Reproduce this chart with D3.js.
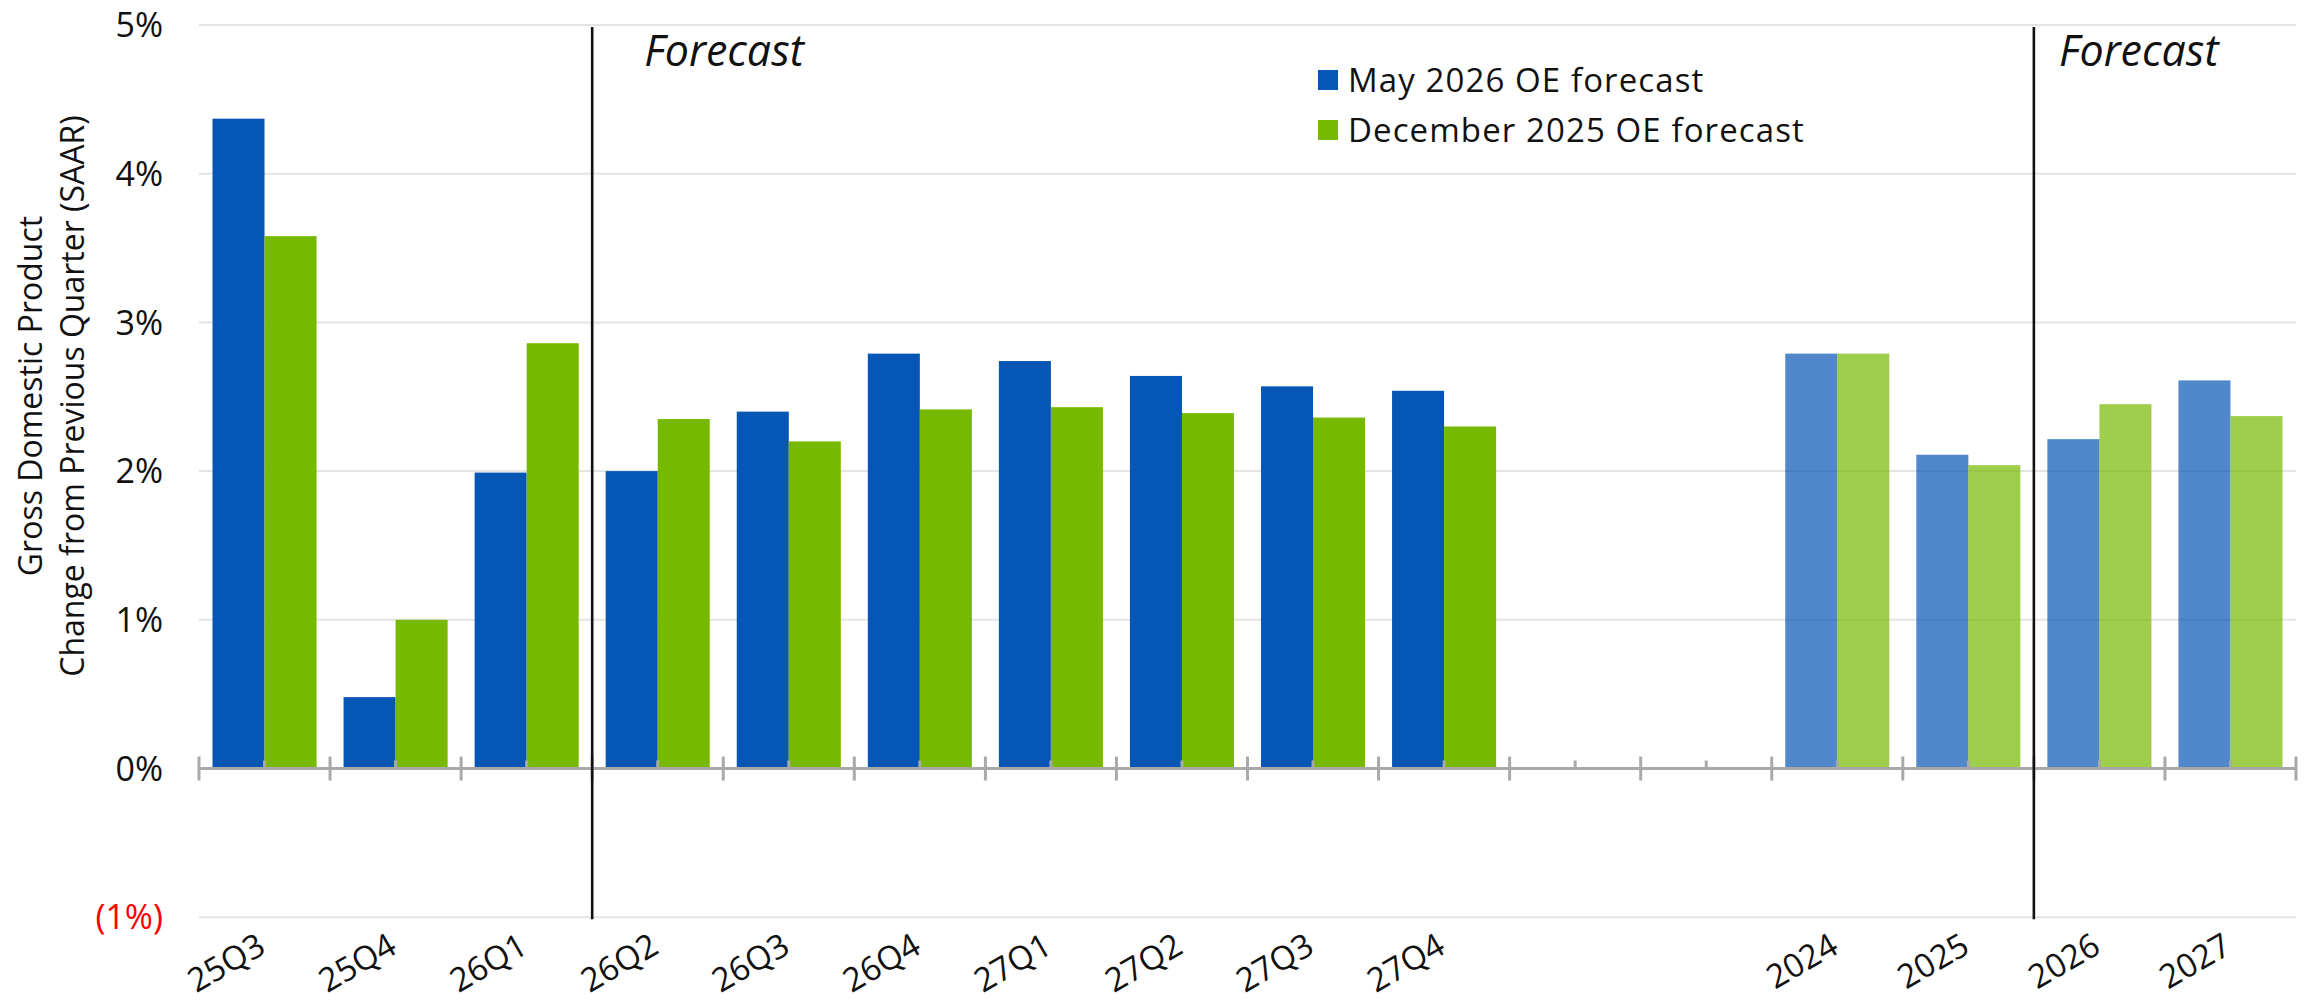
<!DOCTYPE html>
<html>
<head>
<meta charset="utf-8">
<script src="https://cdn.jsdelivr.net/npm/d3@7"></script>
<style>
  html, body { margin: 0; padding: 0; background: #fff; }
  svg { display: block; font-family: "Open Sans", Lato, sans-serif; }
</style>
</head>
<body>
<svg id="chart" width="2308" height="1006"></svg>
<script>
// Quarterly (SAAR) and annual real GDP growth, two forecast vintages
const categories = ["25Q3", "25Q4", "26Q1", "26Q2", "26Q3", "26Q4", "27Q1", "27Q2", "27Q3", "27Q4",
                    " ", "  ", "2024", "2025", "2026", "2027"];
const annualCategories = ["2024", "2025", "2026", "2027"];
const may2026 = [4.37, 0.48, 1.99, 2.00, 2.40, 2.79, 2.74, 2.64, 2.57, 2.54, null, null, 2.79, 2.11, 2.215, 2.61];
const dec2025 = [3.58, 1.00, 2.86, 2.35, 2.20, 2.415, 2.43, 2.39, 2.36, 2.30, null, null, 2.79, 2.04, 2.45, 2.37];
const seriesNames = ["May 2026 OE forecast", "December 2025 OE forecast"];
const yTicks = [-1, 0, 1, 2, 3, 4, 5];
const forecastStarts = ["26Q1", "2025"];   // forecast divider drawn after these categories
const yTitle = ["Gross Domestic Product", "Change from Previous Quarter (SAAR)"];

const colors = ["#0556b5", "#76b900"];

const svg = d3.select("#chart");
const plotLeft = 199, plotRight = 2296, plotTop = 25, plotBottom = 917.2;

const x = d3.scaleBand().domain(categories).range([plotLeft, plotRight]).paddingInner(0).paddingOuter(0);
const y = d3.scaleLinear().domain([-1, 5]).range([plotBottom, plotTop]);
const bw = x.bandwidth();
const barW = bw * 0.397;
const gapW = (bw - 2 * barW) / 2;

// gridlines
svg.append("g").selectAll("line").data(yTicks).join("line")
  .attr("x1", plotLeft).attr("x2", plotRight)
  .attr("y1", d => y(d)).attr("y2", d => y(d))
  .attr("stroke", "#e4e4e4").attr("stroke-width", 2);

// y tick labels
svg.append("g").selectAll("text").data(yTicks).join("text")
  .attr("x", 163).attr("y", d => y(d)).attr("dy", "0.36em")
  .attr("text-anchor", "end")
  .attr("font-size", 34)
  .attr("fill", d => d < 0 ? "#ff0000" : "#111")
  .text(d => d < 0 ? `(${Math.abs(d)}%)` : `${d}%`);

// y axis title (two lines, rotated)
const yt = svg.append("text")
  .attr("transform", `translate(31, 396) rotate(-90)`)
  .attr("text-anchor", "middle")
  .attr("font-size", 32)
  .attr("fill", "#111");
yTitle.forEach((t, i) => {
  yt.append("tspan").attr("x", 0).attr("dy", i === 0 ? "0.35em" : 42).text(t);
});

// bars
const series = [may2026, dec2025];
series.forEach((vals, si) => {
  const data = categories.map((c, i) => ({ c, v: vals[i] })).filter(d => d.v != null);
  svg.append("g").selectAll("rect").data(data).join("rect")
    .attr("x", d => x(d.c) + gapW + si * barW)
    .attr("width", barW)
    .attr("y", d => Math.min(y(d.v), y(0)))
    .attr("height", d => Math.abs(y(0) - y(d.v)))
    .attr("fill", colors[si])
    .attr("fill-opacity", d => annualCategories.includes(d.c) ? 0.7 : 1);
});

// category axis at zero
const axisG = svg.append("g");
axisG.append("line")
  .attr("x1", plotLeft).attr("x2", plotRight)
  .attr("y1", y(0)).attr("y2", y(0))
  .attr("stroke", "#a9a9a9").attr("stroke-width", 3);
const boundaries = categories.map(c => x(c)).concat([x(categories[categories.length - 1]) + bw]);
axisG.selectAll("line.major").data(boundaries).join("line")
  .attr("class", "major")
  .attr("x1", d => d).attr("x2", d => d)
  .attr("y1", y(0) - 12).attr("y2", y(0) + 12)
  .attr("stroke", "#a9a9a9").attr("stroke-width", 3);
axisG.selectAll("line.minor").data(categories).join("line")
  .attr("class", "minor")
  .attr("x1", d => x(d) + bw / 2).attr("x2", d => x(d) + bw / 2)
  .attr("y1", y(0) - 8).attr("y2", y(0))
  .attr("stroke", "#a9a9a9").attr("stroke-width", 3);

// category labels
svg.append("g").selectAll("text").data(categories.filter(c => c.trim() !== "")).join("text")
  .attr("transform", d => `translate(${x(d) + bw / 2 + 3}, 952) rotate(-30)`)
  .attr("text-anchor", "end")
  .attr("font-size", 33)
  .attr("fill", "#111")
  .text(d => d);

// forecast dividers and captions
const fg = svg.append("g");
forecastStarts.forEach((c, i) => {
  const fx = x(c) + bw;
  fg.append("line")
    .attr("x1", fx).attr("x2", fx)
    .attr("y1", y(5) + 2).attr("y2", y(-1) + 2)
    .attr("stroke", "#111").attr("stroke-width", 2.6);
  fg.append("text")
    .attr("x", fx + (i === 0 ? 52 : 25)).attr("y", 66)
    .attr("font-size", 43).attr("font-style", "italic")
    .attr("fill", "#111")
    .text("Forecast");
});

// legend
const lg = svg.append("g");
seriesNames.forEach((name, i) => {
  const cy = 80 + i * 50;
  lg.append("rect").attr("x", 1318).attr("y", cy - 10).attr("width", 20).attr("height", 20).attr("fill", colors[i]);
  lg.append("text").attr("x", 1348).attr("y", cy).attr("dy", "0.36em")
    .attr("font-size", 33).attr("letter-spacing", 1.1).attr("fill", "#111").text(name);
});
</script>
</body>
</html>
